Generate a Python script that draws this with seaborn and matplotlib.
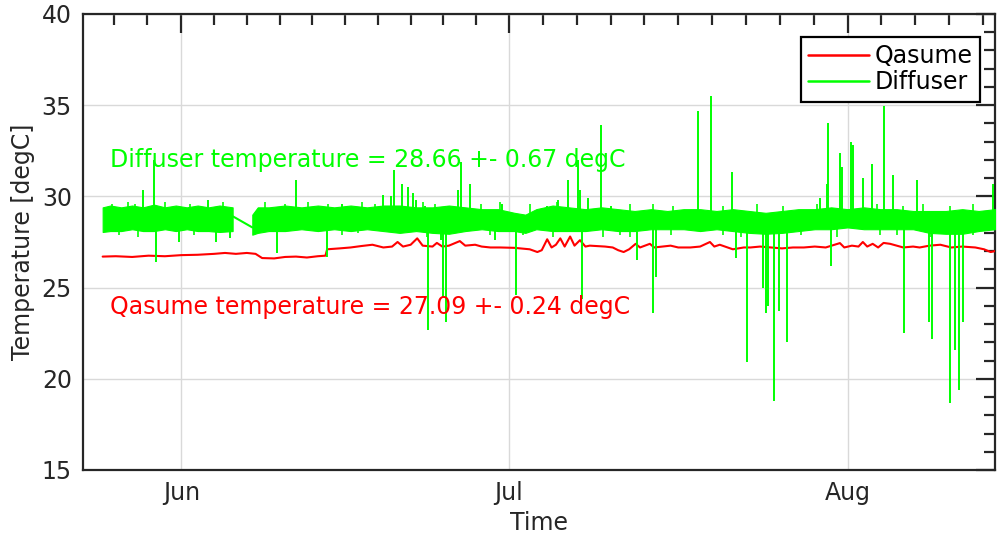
import numpy as np
import pandas as pd
import matplotlib
matplotlib.use("Agg")
import matplotlib.pyplot as plt
import seaborn as sns

# ---------------- data (time in days since 2019-05-01) ----------------
T0 = pd.Timestamp("2019-05-01")
xlim_days = [22.0, 105.5]

qasume_days = [23.8, 25.0, 26.5, 28.0, 29.5, 31.0, 32.5, 34.0, 35.0, 36.0, 37.0, 37.8, 38.4,
               39.5, 40.5, 41.5, 42.5, 43.5, 44.2, 44.35, 45.5, 46.5, 47.5, 48.5, 49.5, 50.3,
               50.8, 51.3, 52.0, 52.6, 53.1, 54.0, 54.4, 54.9, 55.5, 56.5, 57.0, 57.9, 58.5,
               59.3, 60.2, 61.5, 62.9, 63.6, 64.0, 64.5, 64.9, 65.3, 65.7, 66.1, 66.6, 67.0,
               67.5, 68.0, 68.4, 69.8, 70.5, 71.0, 71.5, 72.0, 72.6, 73.0, 73.9, 74.3, 75.8,
               76.5, 77.6, 78.5, 79.4, 79.8, 80.3, 81.5, 82.5, 83.1, 84.0, 85.0, 86.0, 87.0,
               88.0, 89.0, 90.0, 91.3, 91.7, 92.4, 93.0, 93.4, 93.8, 94.3, 94.8, 95.3, 95.9,
               96.5, 97.1, 98.0, 98.6, 99.5, 100.5, 101.5, 102.5, 103.7, 104.5, 105.1, 105.5]
qasume_temp = [26.70, 26.72, 26.68, 26.75, 26.72, 26.78, 26.80, 26.85, 26.90, 26.85, 26.90, 26.85, 26.62,
               26.60, 26.68, 26.70, 26.65, 26.72, 26.75, 27.10, 27.15, 27.20, 27.28, 27.35, 27.20, 27.25,
               27.50, 27.25, 27.35, 27.70, 27.30, 27.25, 27.45, 27.25, 27.30, 27.55, 27.30, 27.35, 27.25,
               27.20, 27.20, 27.18, 27.10, 26.95, 27.05, 27.65, 27.20, 27.35, 27.70, 27.25, 27.80, 27.30,
               27.60, 27.25, 27.30, 27.25, 27.20, 27.05, 26.95, 27.10, 27.40, 27.20, 27.40, 27.20, 27.30,
               27.20, 27.20, 27.25, 27.50, 27.25, 27.35, 27.10, 27.20, 27.20, 27.25, 27.20, 27.15, 27.20,
               27.20, 27.25, 27.20, 27.44, 27.20, 27.30, 27.25, 27.50, 27.25, 27.40, 27.20, 27.45, 27.40,
               27.30, 27.20, 27.25, 27.20, 27.30, 27.35, 27.20, 27.25, 27.20, 27.10, 26.95, 27.00]

# Diffuser: dense noisy band (upper / lower envelope), two segments split by a data gap
band1_days = [23.8, 24.5, 25.5, 26.5, 27.5, 28.5, 29.5, 30.5, 31.5, 32.5, 33.5, 34.5, 35.7]
band1_hi = [29.4, 29.5, 29.4, 29.5, 29.4, 29.55, 29.4, 29.5, 29.4, 29.5, 29.4, 29.5, 29.4]
band1_lo = [28.05, 28.1, 28.1, 28.2, 28.1, 28.1, 28.2, 28.1, 28.2, 28.1, 28.1, 28.05, 28.1]

band2_days = [37.5, 38.0, 39.0, 40.5, 42.0, 43.5, 45.0, 46.5, 48.0, 49.5, 51.0, 52.5, 54.0,
              55.5, 57.0, 58.5, 60.0, 61.5, 62.5, 63.5, 65.0, 66.5, 68.0, 69.5, 71.0, 72.5,
              74.0, 75.5, 77.0, 78.5, 80.0, 81.5, 83.0, 84.5, 86.0, 87.5, 89.0, 90.5, 92.0,
              93.5, 95.0, 96.5, 98.0, 99.5, 101.0, 102.5, 104.0, 105.5]
band2_hi = [29.0, 29.4, 29.4, 29.5, 29.4, 29.5, 29.4, 29.5, 29.4, 29.5, 29.5, 29.4, 29.4,
            29.5, 29.4, 29.3, 29.3, 29.1, 29.0, 29.3, 29.5, 29.4, 29.3, 29.4, 29.3, 29.2,
            29.3, 29.2, 29.3, 29.3, 29.2, 29.3, 29.2, 29.1, 29.2, 29.3, 29.3, 29.4, 29.3,
            29.4, 29.3, 29.3, 29.2, 29.2, 29.2, 29.3, 29.2, 29.3]
band2_lo = [27.9, 28.0, 28.1, 28.1, 28.2, 28.1, 28.2, 28.1, 28.2, 28.1, 28.0, 28.1, 28.0,
            27.95, 28.1, 28.2, 28.1, 28.1, 28.0, 28.2, 28.1, 28.1, 28.1, 28.2, 28.1, 28.1,
            28.2, 28.2, 28.2, 28.1, 28.2, 28.1, 28.0, 27.95, 28.0, 28.1, 28.2, 28.2, 28.3,
            28.2, 28.2, 28.2, 28.2, 28.0, 27.95, 27.95, 28.1, 28.2]

gap_days = [35.74, 37.5]
gap_temp = [28.9, 28.3]

spike_base = 28.7
spike_up_days = [27.5, 28.5, 33.4, 41.5, 45.7, 49.5, 50.2, 50.5, 51.2, 51.8, 52.2, 52.5, 53.3,
                 55.4, 56.3, 56.6, 57.4, 60.4, 64.5, 65.5, 66.4, 67.3, 67.5, 68.2, 69.4, 70.3,
                 78.3, 79.5, 81.4, 89.5, 90.1, 90.2, 91.3, 91.5, 92.3, 92.5, 93.4, 94.2, 95.3,
                 96.2, 98.4, 105.3]
spike_up_temp = [30.35, 32.0, 29.8, 30.9, 29.6, 30.1, 30.0, 31.45, 30.7, 30.5, 30.2, 29.8, 29.5,
                 29.5, 30.35, 31.9, 30.7, 29.6, 29.5, 29.8, 30.9, 32.0, 30.35, 29.9, 33.9, 29.5,
                 34.7, 35.5, 31.35, 29.9, 30.7, 34.0, 32.4, 31.6, 33.0, 32.8, 31.0, 31.8, 34.95,
                 31.2, 30.9, 30.7]
spike_dn_days = [28.7, 30.8, 34.2, 35.5, 39.8, 44.3, 53.6, 54.8, 55.0, 55.2, 59.7, 61.6, 67.7,
                 72.7, 74.2, 74.5, 81.8, 82.8, 84.3, 84.5, 84.7, 85.3, 85.7, 86.5, 90.5, 97.2,
                 99.5, 99.7, 101.4, 101.8, 102.2, 102.6]
spike_dn_temp = [26.4, 27.5, 27.5, 27.7, 26.9, 26.7, 22.7, 27.6, 24.5, 23.1, 27.6, 24.6, 24.4,
                 26.5, 23.6, 25.6, 26.6, 20.9, 25.0, 23.6, 24.0, 18.8, 23.7, 22.0, 26.2, 22.5,
                 23.1, 22.2, 18.7, 21.6, 19.4, 23.1]

# short noise excursions along the band edges
small_up_days = [24.7, 26.1, 26.8, 29.5, 31.8, 34.8, 38.7, 40.5, 42.6, 44.4, 47.5, 48.7,
                 53.1, 54.2, 58.4, 60.2, 62.9, 65.4, 72.1, 74.2, 76.0,
                 80.6, 83.7, 86.1, 89.2, 94.7, 97.1, 98.9, 101.4, 103.5]
small_up_temp = [29.6, 29.7, 29.6, 29.7, 29.6, 29.7, 29.7, 29.6, 29.7, 29.6, 29.7, 29.6,
                 29.7, 29.6, 29.6, 29.7, 29.6, 29.7, 29.6, 29.6, 29.5,
                 29.5, 29.6, 29.5, 29.6, 29.6, 29.5, 29.6, 29.5, 29.6]
small_dn_days = [25.3, 27.0, 32.2, 45.7, 47.2, 53.5, 59.3, 62.3, 65.0, 69.6, 71.2, 72.1, 75.8,
                 80.6, 82.2, 87.7, 91.0, 95.0, 96.5, 99.6, 103.5]
small_dn_temp = [27.9, 27.8, 27.9, 27.9, 28.0, 27.8, 27.9, 27.9, 27.8, 27.8, 27.9, 27.8, 27.9,
                 27.9, 27.8, 27.9, 27.8, 27.9, 27.9, 27.8, 27.9]

diffuser_text = "Diffuser temperature = 28.66 +- 0.67 degC"
qasume_text = "Qasume temperature = 27.09 +- 0.24 degC"
diffuser_text_pos = (24.5, 32.0)
qasume_text_pos = (24.5, 23.95)

y_ticks = [15, 20, 25, 30, 35, 40]
month_labels = ["Jun", "Jul", "Aug"]


def to_time(days):
    return T0 + pd.to_timedelta(np.asarray(days, dtype=float), unit="D")


# ---------------- style ----------------
sns.set_theme(style="white")
plt.rcParams["font.family"] = ["DejaVu Sans"]
FS = 17
RED = "#ff0000"
GREEN = "#00ff00"
TXT = "#262626"

fig = plt.figure(figsize=(9.97, 5.35), dpi=100)
ax = fig.add_axes([83 / 997, 65 / 535, 912 / 997, 456 / 535])

# Qasume
q = pd.DataFrame({"time": to_time(qasume_days), "temp": qasume_temp})
sns.lineplot(data=q, x="time", y="temp", color=RED, linewidth=1.5, label="Qasume", ax=ax, zorder=3)

# Diffuser
ax.fill_between(to_time(band1_days), band1_lo, band1_hi, color=GREEN, linewidth=0.8,
                edgecolor=GREEN, zorder=4)
ax.fill_between(to_time(band2_days), band2_lo, band2_hi, color=GREEN, linewidth=0.8,
                edgecolor=GREEN, zorder=4)
ax.vlines(to_time(spike_up_days), spike_base, spike_up_temp, color=GREEN, linewidth=1.4, zorder=4)
ax.vlines(to_time(spike_dn_days), spike_base, spike_dn_temp, color=GREEN, linewidth=1.4, zorder=4)
ax.vlines(to_time(small_up_days), spike_base, small_up_temp, color=GREEN, linewidth=1.2, zorder=4)
ax.vlines(to_time(small_dn_days), spike_base, small_dn_temp, color=GREEN, linewidth=1.2, zorder=4)
g = pd.DataFrame({"time": to_time(gap_days), "temp": gap_temp})
sns.lineplot(data=g, x="time", y="temp", color=GREEN, linewidth=1.5, label="Diffuser", ax=ax, zorder=4)

# annotations
ax.text(to_time([diffuser_text_pos[0]])[0], diffuser_text_pos[1], diffuser_text, color=GREEN,
        fontsize=FS, va="center", ha="left", zorder=5)
ax.text(to_time([qasume_text_pos[0]])[0], qasume_text_pos[1], qasume_text, color=RED,
        fontsize=FS, va="center", ha="left", zorder=5)

# axes
t_lo, t_hi = to_time(xlim_days)
ax.set_xlim(t_lo, t_hi)
ax.set_ylim(15, 40)
ax.set_yticks(y_ticks)
ax.set_yticks(np.arange(15, 41, 1), minor=True)

month_starts = pd.date_range("2019-05-01", "2019-09-01", freq="MS")
major = [m for m in month_starts if t_lo <= m <= t_hi]
ax.set_xticks(major)
ax.set_xticklabels(month_labels)
minor = []
for a, b in zip(month_starts[:-1], month_starts[1:]):
    step = (b - a) / 10
    for k in range(1, 10):
        t = a + k * step
        if t_lo <= t <= t_hi:
            minor.append(t)
ax.set_xticks(minor, minor=True)

ax.grid(True, which="major", color="#d9d9d9", linewidth=1.0, zorder=0)
ax.set_axisbelow(True)
for s in ax.spines.values():
    s.set_color(TXT)
    s.set_linewidth(1.6)
    s.set_visible(True)
ax.tick_params(which="both", direction="in", top=True, right=True, colors=TXT,
               labelsize=FS, width=1.6)
ax.tick_params(which="major", length=14, pad=8)
ax.tick_params(which="minor", length=8)
ax.set_xlabel("Time", fontsize=FS, color=TXT, labelpad=4)
ax.set_ylabel("Temperature [degC]", fontsize=FS, color=TXT, labelpad=5)

leg = ax.legend(loc="upper right", bbox_to_anchor=(0.9836, 0.9496), borderaxespad=0,
                fontsize=FS, frameon=True, fancybox=False, handlelength=2.6,
                handletextpad=0.25, labelspacing=0.1, borderpad=0.3)
leg.get_frame().set_edgecolor("#000000")
leg.get_frame().set_linewidth(1.6)
leg.get_frame().set_alpha(1)
for t in leg.get_texts():
    t.set_color("#000000")
for h in leg.get_lines():
    h.set_linewidth(1.8)

fig.savefig("out.png", dpi=100)
